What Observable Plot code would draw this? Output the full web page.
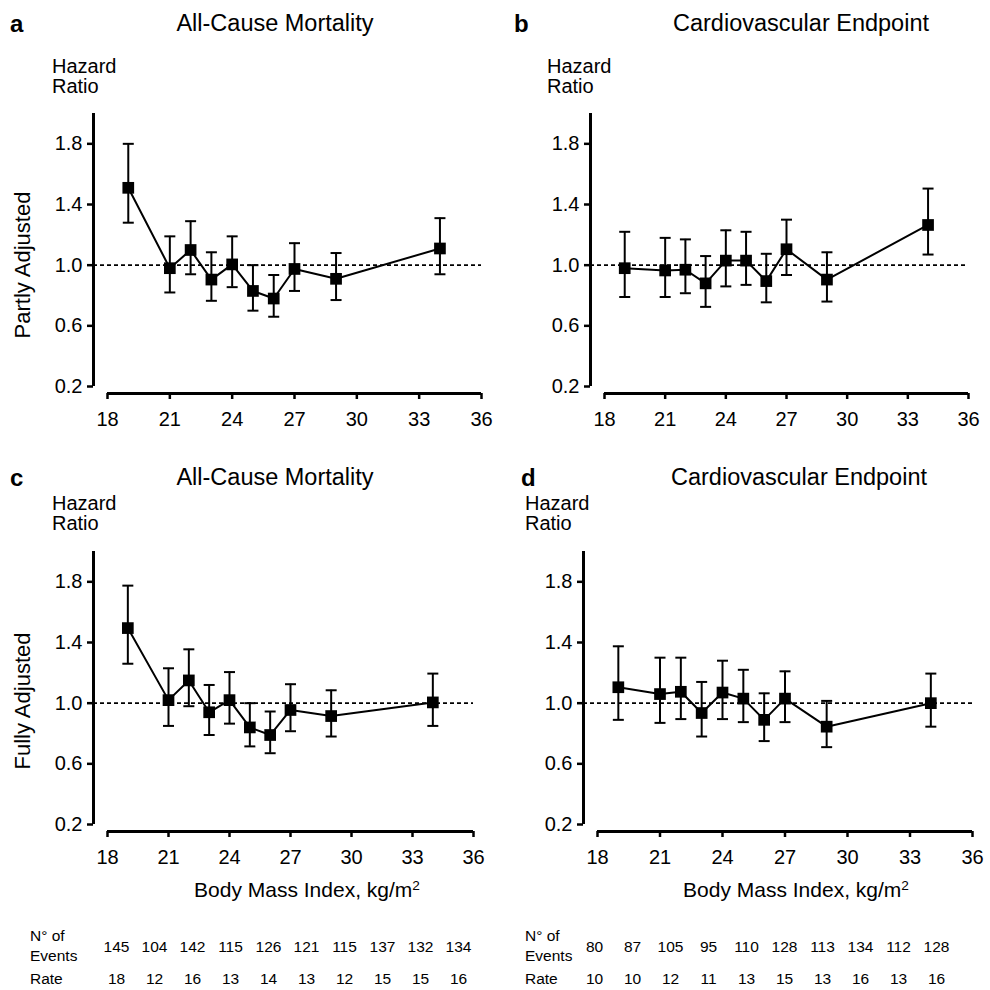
<!DOCTYPE html>
<html><head><meta charset="utf-8">
<script src="https://cdn.jsdelivr.net/npm/d3@7"></script>
<script src="https://cdn.jsdelivr.net/npm/@observablehq/plot@0.6"></script>
<style>
body{margin:0;background:#fff;}
#root{position:relative;width:990px;height:990px;background:#fff;font-family:"Liberation Sans",Arial,sans-serif;color:#000;overflow:hidden;}
.abs{position:absolute;white-space:nowrap;line-height:1;}
.pl{position:absolute;width:495px;}
.pl svg{overflow:visible;}
.panel svg text{font-size:20px !important;font-family:"Liberation Sans",Arial,sans-serif !important;}
</style></head><body><div id="root"></div>
<script>
// ---- data ----
const bmi = [19, 21, 22, 23, 24, 25, 26, 27, 29, 34];
const xTicks = [18, 21, 24, 27, 30, 33, 36];
const yTicks = [0.2, 0.6, 1.0, 1.4, 1.8];

// a: all-cause mortality, partly adjusted
const aHR = [1.51, 0.98, 1.10, 0.905, 1.005, 0.83, 0.78, 0.975, 0.91, 1.11];
const aLo = [1.28, 0.82, 0.94, 0.765, 0.855, 0.70, 0.66, 0.83, 0.77, 0.94];
const aHi = [1.80, 1.19, 1.29, 1.085, 1.19, 1.00, 0.935, 1.145, 1.08, 1.31];
// b: cardiovascular endpoint, partly adjusted
const bHR = [0.98, 0.965, 0.97, 0.88, 1.03, 1.03, 0.895, 1.105, 0.905, 1.265];
const bLo = [0.79, 0.79, 0.815, 0.725, 0.86, 0.87, 0.755, 0.935, 0.76, 1.07];
const bHi = [1.22, 1.18, 1.17, 1.06, 1.23, 1.22, 1.075, 1.30, 1.085, 1.505];
// c: all-cause mortality, fully adjusted
const cHR = [1.495, 1.02, 1.15, 0.94, 1.02, 0.84, 0.79, 0.955, 0.915, 1.005];
const cLo = [1.26, 0.85, 0.98, 0.79, 0.865, 0.715, 0.67, 0.815, 0.78, 0.85];
const cHi = [1.775, 1.23, 1.355, 1.12, 1.205, 1.00, 0.945, 1.125, 1.085, 1.195];
// d: cardiovascular endpoint, fully adjusted
const dHR = [1.105, 1.06, 1.075, 0.935, 1.07, 1.03, 0.89, 1.03, 0.845, 1.0];
const dLo = [0.89, 0.87, 0.895, 0.78, 0.895, 0.875, 0.75, 0.875, 0.71, 0.845];
const dHi = [1.375, 1.30, 1.30, 1.14, 1.28, 1.22, 1.065, 1.21, 1.015, 1.195];

// table below
const allEvents = [145, 104, 142, 115, 126, 121, 115, 137, 132, 134];
const allRate = [18, 12, 16, 13, 14, 13, 12, 15, 15, 16];
const cvEvents = [80, 87, 105, 95, 110, 128, 113, 134, 112, 128];
const cvRate = [10, 10, 12, 11, 13, 15, 13, 16, 13, 16];

const root = document.getElementById("root");
const FONT = '"Liberation Sans", Arial, sans-serif';

function addText(html, css) {
  const d = document.createElement("div");
  d.className = "abs";
  d.innerHTML = html;
  Object.assign(d.style, css);
  root.appendChild(d);
  return d;
}

const cap = {draw(ctx, size) { const h = Math.sqrt(size / Math.PI); ctx.moveTo(-h, 0); ctx.lineTo(h, 0); }};

function panel({hr, lo, hi, left, top, marginLeft, marginRight, inset}) {
  const data = bmi.map((x, i) => ({x, hr: hr[i], lo: lo[i], hi: hi[i]}));
  const p = Plot.plot({
    width: 495, height: 330, marginTop: 10, marginBottom: 40, marginLeft, marginRight,
    style: {fontFamily: FONT, fontSize: "20px", color: "#000", background: "transparent", overflow: "visible"},
    x: {domain: [18, 36], insetLeft: inset},
    y: {domain: [0.2, 2.0], insetBottom: 7},
    marks: [
      Plot.axisX({ticks: xTicks, tickSize: 6, tickPadding: 12, strokeWidth: 2.5, label: null, tickFormat: d => String(d)}),
      Plot.axisY({ticks: yTicks, tickSize: 6, tickPadding: 5, strokeWidth: 2.5, label: null, tickFormat: d3.format(".1f")}),
      Plot.ruleX([18], {y1: 0.2, y2: 2.0, dx: -inset, strokeWidth: 3, stroke: "#000"}),
      Plot.ruleY([0.2], {x1: 18, x2: 36, dy: 7, strokeWidth: 3, stroke: "#000"}),
      Plot.ruleY([1], {strokeDasharray: "4,3", strokeWidth: 1.6, stroke: "#000"}),
      Plot.ruleX(data, {x: "x", y1: "lo", y2: "hi", strokeWidth: 2, stroke: "#000"}),
      Plot.dot(data, {x: "x", y: "lo", symbol: cap, r: 5.5, stroke: "#000", strokeWidth: 2, fill: "none"}),
      Plot.dot(data, {x: "x", y: "hi", symbol: cap, r: 5.5, stroke: "#000", strokeWidth: 2, fill: "none"}),
      Plot.line(data, {x: "x", y: "hr", strokeWidth: 2, stroke: "#000"}),
      Plot.dot(data, {x: "x", y: "hr", symbol: "square", r: 6.6, fill: "#000", stroke: "none"})
    ]
  });
  const wrap = document.createElement("div");
  wrap.className = "pl panel";
  wrap.style.left = left + "px";
  wrap.style.top = top + "px";
  wrap.appendChild(p);
  root.appendChild(wrap);
}

function table({events, rate, left, top, x0, x1}) {
  const rows = [];
  events.forEach((v, i) => rows.push({i, row: "events", v}));
  rate.forEach((v, i) => rows.push({i, row: "rate", v}));
  const p = Plot.plot({
    width: 495, height: 65, marginTop: 22, marginBottom: 11, marginLeft: x0, marginRight: 495 - x1,
    style: {fontFamily: FONT, color: "#000", background: "transparent", overflow: "visible"},
    x: {type: "point", domain: d3.range(events.length), padding: 0, axis: null},
    y: {type: "point", domain: ["events", "rate"], padding: 0, axis: null},
    marks: [Plot.text(rows, {x: "i", y: "row", text: d => String(d.v), fontSize: 15.5, fill: "#000"})]
  });
  const wrap = document.createElement("div");
  wrap.className = "pl";
  wrap.style.left = left + "px";
  wrap.style.top = top + "px";
  wrap.appendChild(p);
  root.appendChild(wrap);
}

panel({hr: aHR, lo: aLo, hi: aHi, left: 0, top: 103, marginLeft: 93, marginRight: 14, inset: 14});
panel({hr: bHR, lo: bLo, hi: bHi, left: 495, top: 103, marginLeft: 95, marginRight: 22, inset: 14});
panel({hr: cHR, lo: cLo, hi: cHi, left: 0, top: 541, marginLeft: 93, marginRight: 22, inset: 14});
panel({hr: dHR, lo: dLo, hi: dHi, left: 495, top: 541, marginLeft: 88, marginRight: 18, inset: 14});

table({events: allEvents, rate: allRate, left: 0, top: 925, x0: 113, x1: 460});
table({events: cvEvents, rate: cvRate, left: 495, top: 925, x0: 97, x1: 443});

// panel letters
const letterCss = {fontSize: "24px", fontWeight: "bold"};
addText("a", {...letterCss, left: "10px", top: "12px"});
addText("b", {...letterCss, left: "514px", top: "12px"});
addText("c", {...letterCss, left: "10px", top: "466px"});
addText("d", {...letterCss, left: "521px", top: "466px"});

// titles
const titleCss = {fontSize: "23.5px", transform: "translateX(-50%)"};
addText("All-Cause Mortality", {...titleCss, left: "275px", top: "12px"});
addText("Cardiovascular Endpoint", {...titleCss, left: "801px", top: "12px"});
addText("All-Cause Mortality", {...titleCss, left: "275px", top: "466px"});
addText("Cardiovascular Endpoint", {...titleCss, left: "799px", top: "466px"});

// Hazard Ratio
const hrCss = {fontSize: "20px", lineHeight: "20px"};
addText("Hazard<br>Ratio", {...hrCss, left: "52px", top: "56px"});
addText("Hazard<br>Ratio", {...hrCss, left: "547px", top: "56px"});
addText("Hazard<br>Ratio", {...hrCss, left: "52px", top: "493px"});
addText("Hazard<br>Ratio", {...hrCss, left: "525px", top: "493px"});

// rotated y labels
const ylCss = {fontSize: "22px", transform: "translate(-50%,-50%) rotate(-90deg)"};
addText("Partly Adjusted", {...ylCss, left: "22.5px", top: "265px"});
addText("Fully Adjusted", {...ylCss, left: "22.5px", top: "701px"});

// x labels
const xl = 'Body Mass Index, kg/m<span style="font-size:0.65em;position:relative;top:-0.5em">2</span>';
addText(xl, {fontSize: "21px", transform: "translateX(-50%)", left: "307px", top: "879px"});
addText(xl, {fontSize: "21px", transform: "translateX(-50%)", left: "796px", top: "879px"});

// table row labels
const rlCss = {fontSize: "15.5px", lineHeight: "20px"};
addText("N° of<br>Events", {...rlCss, left: "30px", top: "926px"});
addText("Rate", {...rlCss, left: "30px", top: "969px"});
addText("N° of<br>Events", {...rlCss, left: "525px", top: "926px"});
addText("Rate", {...rlCss, left: "525px", top: "969px"});
</script>
</body></html>
